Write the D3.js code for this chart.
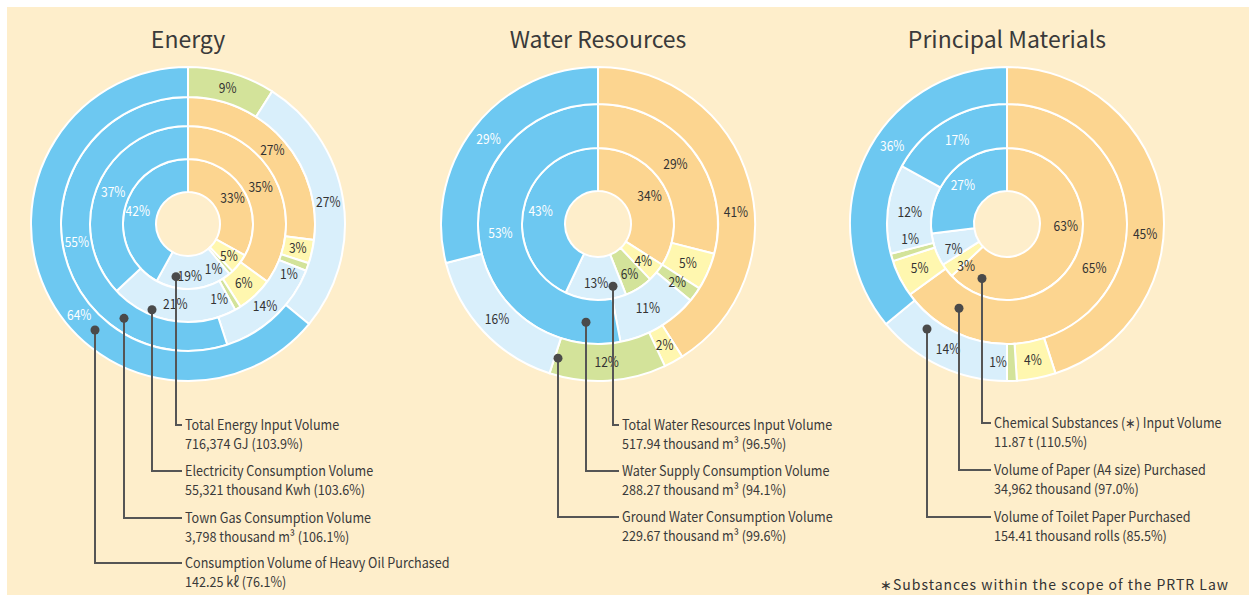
<!DOCTYPE html>
<html lang="en">
<head>
<meta charset="UTF-8">
<title>Energy / Water / Materials input</title>
<script src="https://cdn.jsdelivr.net/npm/d3@7"></script>
<style>
    body { margin: 0; background: #fff; }
    svg text { font-family: "Noto Sans CJK JP", "Noto Sans", sans-serif; }
</style>
</head>
<body>
<svg id="chart" width="1249" height="595"></svg>
<script>
// colour groups, clockwise from 12 o'clock
const groups = ['orange', 'yellow', 'green', 'lightBlue', 'blue'];

// Energy rings (inner -> outer), % per group
const energyTotal       = [33, 5, 1, 19, 42];
const energyElectricity = [35, 6, 1, 21, 37];
const energyTownGas     = [27, 3, 1, 14, 55];
const energyHeavyOil    = [0, 0, 9, 27, 64];

// Water rings
const waterTotal  = [34, 4, 6, 13, 43];
const waterSupply = [29, 5, 2, 11, 53];
const waterGround = [41, 2, 12, 16, 29];

// Principal materials rings
const matChemical = [63, 3, 0, 7, 27];
const matPaper    = [65, 5, 1, 12, 17];
const matToilet   = [45, 4, 1, 14, 36];

const energyNames   = ['Total Energy Input Volume', 'Electricity Consumption Volume', 'Town Gas Consumption Volume', 'Consumption Volume of Heavy Oil Purchased'];
const energyAmounts = ['716,374 GJ (103.9%)', '55,321 thousand Kwh (103.6%)', '3,798 thousand m³ (106.1%)', '142.25 kℓ (76.1%)'];
const waterNames    = ['Total Water Resources Input Volume', 'Water Supply Consumption Volume', 'Ground Water Consumption Volume'];
const waterAmounts  = ['517.94 thousand m³ (96.5%)', '288.27 thousand m³ (94.1%)', '229.67 thousand m³ (99.6%)'];
const matNames      = ['Chemical Substances (\u2217) Input Volume', 'Volume of Paper (A4 size) Purchased', 'Volume of Toilet Paper Purchased'];
const matAmounts    = ['11.87 t (110.5%)', '34,962 thousand (97.0%)', '154.41 thousand rolls (85.5%)'];

const colors = {
    orange: '#fcd590', yellow: '#fff7af', green: '#d3e39a',
    lightBlue: '#d9effb', blue: '#6dc8f1'
};

const svg = d3.select('#chart');
svg.append('rect')
    .attr('x', 7).attr('y', 7)
    .attr('width', 1249 - 7).attr('height', 595 - 7)
    .attr('fill', '#feeecb');

const pie = d3.pie().sort(null).value(d => d);

// layout for the three charts
const charts = [
    {
        title: 'Energy', cx: 188, cy: 224,
        radii: [32, 65, 98, 127, 157],
        rings: [energyTotal, energyElectricity, energyTownGas, energyHeavyOil],
        names: energyNames, amounts: energyAmounts,
        textX: 185,
        leaders: [{ dx: -12, r: 54, y: 425 }, { dx: -36, r: 93, y: 471 }, { dx: -64, r: 114, y: 518 }, { dx: -93, r: 141, y: 563 }],
        nudge: { '3-4': 230, '0-3': 178 }
    },
    {
        title: 'Water Resources', cx: 598, cy: 224,
        radii: [33, 76, 120, 157],
        rings: [waterTotal, waterSupply, waterGround],
        names: waterNames, amounts: waterAmounts,
        textX: 622,
        leaders: [{ dx: 15, r: 64, y: 425 }, { dx: -12, r: 99, y: 471 }, { dx: -40, r: 140, y: 517 }],
        nudge: { '2-0': 85 }
    },
    {
        title: 'Principal Materials', cx: 1007, cy: 224,
        radii: [33, 76, 120, 157],
        rings: [matChemical, matPaper, matToilet],
        names: matNames, amounts: matAmounts,
        textX: 994,
        leaders: [{ dx: -25, r: 60, y: 423 }, { dx: -48, r: 97, y: 470 }, { dx: -80, r: 132, y: 517 }],
        nudge: { '0-0': 92, '0-1': 224, '0-3': 245, '2-0': 94, '2-4': 304 }
    }
];

function label(sel, x, y, size, sx) {
    return sel.append('text')
        .attr('transform', `translate(${x},${y}) scale(${sx},1)`)
        .attr('font-size', size);
}

charts.forEach(c => {
    const g = svg.append('g').attr('transform', `translate(${c.cx},${c.cy})`);

    svg.append('text')
        .attr('x', c.cx).attr('y', 48)
        .attr('text-anchor', 'middle')
        .attr('font-size', '23px')
        .attr('fill', '#3a3a3a')
        .text(c.title);

    c.rings.forEach((values, ri) => {
        const r0 = c.radii[ri], r1 = c.radii[ri + 1];
        const arc = d3.arc().innerRadius(r0).outerRadius(r1);
        const arcs = pie(values).map((d, i) => Object.assign(d, { group: groups[i], idx: i }));

        g.selectAll(null)
            .data(arcs.filter(d => d.value > 0))
            .enter().append('path')
            .attr('d', arc)
            .attr('fill', d => colors[d.group])
            .attr('stroke', '#fff')
            .attr('stroke-width', 2);

        // labels sit a bit outward on the innermost ring
        const rm = r0 + (ri === 0 ? 0.6 : 0.5) * (r1 - r0);
        arcs.filter(d => d.value > 0).forEach(d => {
            let a = (d.startAngle + d.endAngle) / 2;
            if (d.value <= 1) a = d.endAngle + 9 / rm;
            const key = ri + '-' + d.idx;
            if (c.nudge[key] !== undefined) a = c.nudge[key] * Math.PI / 180;
            label(g, rm * Math.sin(a), -rm * Math.cos(a), '14px', 0.86)
                .attr('dy', '0.35em')
                .attr('text-anchor', 'middle')
                .attr('fill', d.group === 'blue' ? '#fff' : '#333')
                .text(d.value + '%');
        });
    });

    // leader lines to the captions
    c.leaders.forEach((L, i) => {
        const x = c.cx + L.dx;
        const y = c.cy + Math.sqrt(L.r * L.r - L.dx * L.dx);
        svg.append('path')
            .attr('d', `M${x},${y}V${L.y}H${c.textX - 3}`)
            .attr('fill', 'none')
            .attr('stroke', '#555')
            .attr('stroke-width', 2);
        svg.append('circle')
            .attr('cx', x).attr('cy', y).attr('r', 4.5)
            .attr('fill', '#4a4a4a');
        label(svg, c.textX, L.y + 5, '14px', 0.9)
            .attr('fill', '#3a3a3a')
            .text(c.names[i]);
        label(svg, c.textX, L.y + 24, '14px', 0.9)
            .attr('fill', '#3a3a3a')
            .text(c.amounts[i]);
    });
});

svg.append('text')
    .attr('x', 1228).attr('y', 590)
    .attr('text-anchor', 'end')
    .attr('font-size', '14px')
    .attr('fill', '#333')
    .attr('textLength', 348)
    .text('\u2217Substances within the scope of the PRTR Law');
</script>
</body>
</html>
